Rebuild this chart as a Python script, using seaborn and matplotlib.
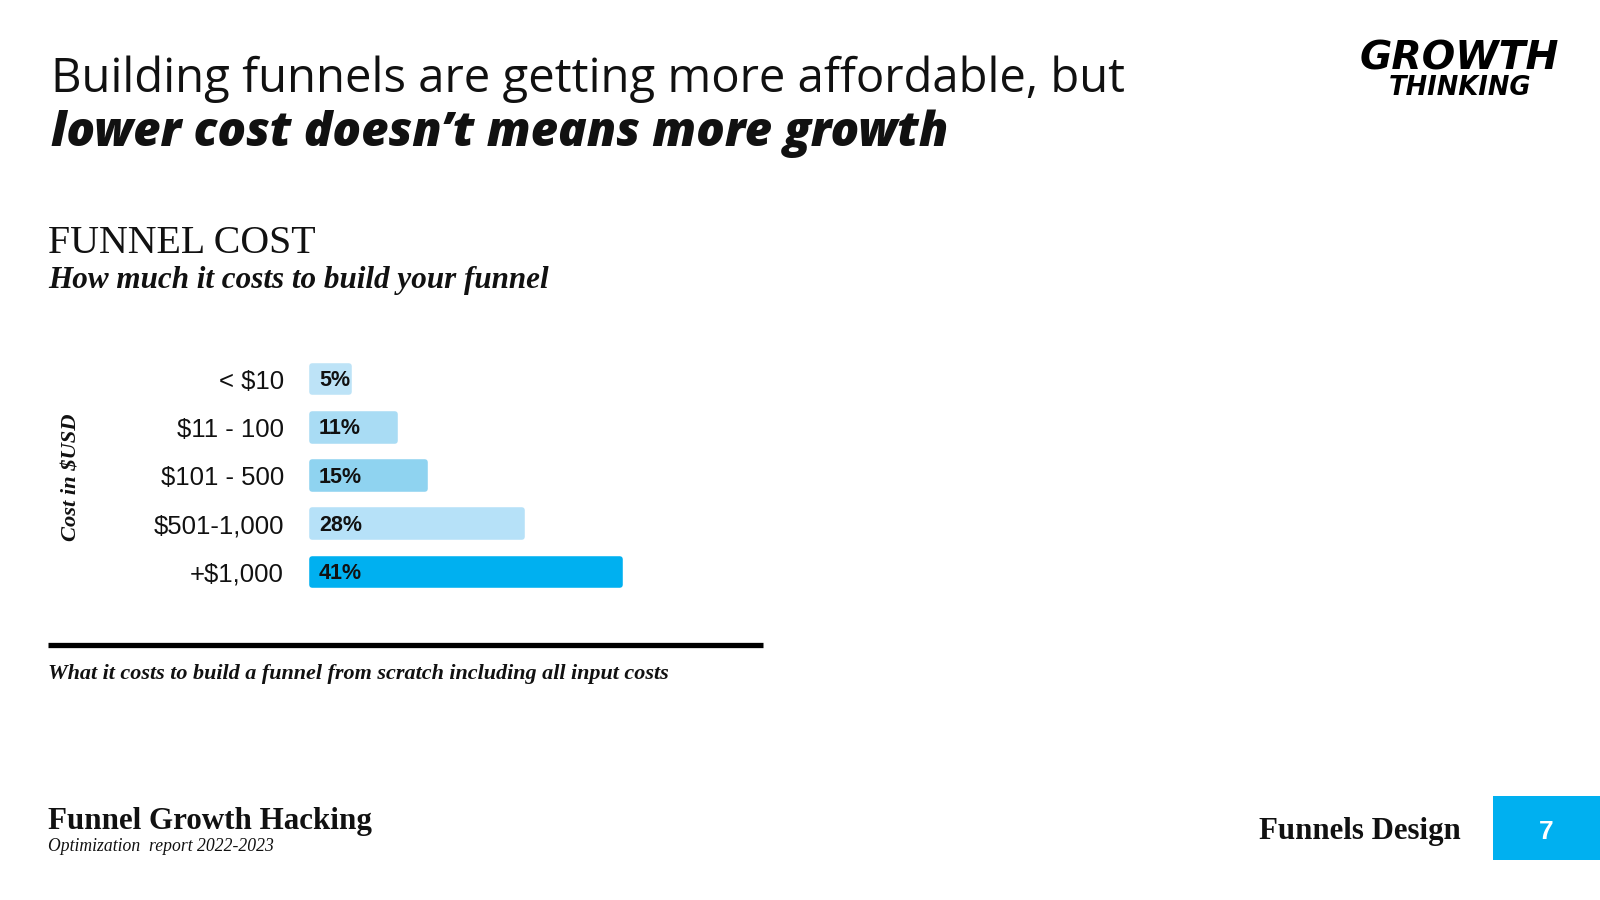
import matplotlib
matplotlib.use("Agg")
import matplotlib.pyplot as plt
import seaborn as sns
import pandas as pd

categories = ["< $10", "$11 - 100", "$101 - 500", "$501-1,000", "+$1,000"]
values = [5, 11, 15, 28, 41]
bar_colors = ["#BDE3F7", "#A9DCF4", "#8FD3F0", "#B6E1F8", "#00B0F0"]

title_line1 = "Building funnels are getting more affordable, but"
title_line2 = "lower cost doesn\u2019t means more growth"
chart_title = "FUNNEL COST"
chart_subtitle = "How much it costs to build your funnel"
y_label = "Cost in $USD"
footnote = "What it costs to build a funnel from scratch including all input costs"
footer_title = "Funnel Growth Hacking"
footer_sub = "Optimization  report 2022-2023"
section_name = "Funnels Design"
page_number = "7"

sns.set_theme(style="white")
plt.rcParams["font.family"] = ["Liberation Sans", "DejaVu Sans"]

W, H = 1600, 900
fig = plt.figure(figsize=(16, 9), dpi=100)
fig.patch.set_facecolor("white")
renderer = fig.canvas.get_renderer()


def fx(x):
    return x / W


def fy(y):
    return 1 - y / H


def put(x, y, s, width=None, **kw):
    kw.setdefault("va", "baseline")
    t = fig.text(fx(x), fy(y), s, **kw)
    if width is not None:
        bb = t.get_window_extent(renderer)
        t.set_fontsize(t.get_fontsize() * width / bb.width)
    return t


# Headline
put(51, 92, title_line1, width=1074, fontsize=30, family=["Open Sans", "DejaVu Sans"], color="#111111")
put(51, 146, title_line2, width=897, fontsize=30, family=["Open Sans", "DejaVu Sans"],
    fontweight="heavy", style="italic", color="#111111")

# Logo
put(1360, 70, "GROWTH", width=199, fontsize=30, family=["DejaVu Sans"],
    fontweight="bold", style="oblique", color="#000000")
put(1389, 95, "THINKING", width=142, fontsize=18, family=["DejaVu Sans"],
    fontweight="bold", style="oblique", color="#000000")

# Chart titles
put(48, 253, chart_title, width=268, fontsize=28, family=["Liberation Serif", "DejaVu Serif"], color="#111111")
put(48, 288, chart_subtitle, width=501, fontsize=19, family=["Liberation Serif", "DejaVu Serif"],
    fontweight="bold", style="italic", color="#111111")

# Y axis label
yl = fig.text(fx(71), fy(477), y_label, rotation=90, ha="center", va="center",
              family=["Liberation Serif", "DejaVu Serif"], fontweight="bold", style="italic",
              fontsize=14, color="#111111")
bb = yl.get_window_extent(renderer)
yl.set_fontsize(14 * 128 / bb.height)

# Bar chart (rounded corners via thick round-joined edges)
edge_lw = 4.0  # points -> ~5.6 px, adds ~2.8 px on each side
ext = edge_lw * 100 / 72 / 2
ax_left, ax_right = 309 + ext, 623 - ext
ax_top, ax_bottom = 355, 596
ax = fig.add_axes([fx(ax_left), fy(ax_bottom), (ax_right - ax_left) / W, (ax_bottom - ax_top) / H])
df = pd.DataFrame({"cost": categories, "share": values})
row_px = (ax_bottom - ax_top) / len(categories)
bar_w = (32 - 2 * ext) / row_px
sns.barplot(data=df, x="share", y="cost", hue="cost", palette=bar_colors, legend=False,
            orient="h", width=bar_w, saturation=1, ax=ax)
for p, c in zip(ax.patches, bar_colors):
    p.set_edgecolor(c)
    p.set_linewidth(edge_lw)
    p.set_joinstyle("round")
    p.set_clip_on(False)
ax.set_xlim(0, max(values))
ax.set_ylim(len(categories) - 0.5, -0.5)
for i, v in enumerate(values):
    ax.annotate(f"{v}%", xy=(0, i), xytext=(10 - ext, 1), textcoords="offset pixels",
                ha="left", va="center_baseline", fontsize=15.5, fontweight="bold", color="#111111",
                family=["Liberation Sans", "DejaVu Sans"])
ax.set_xlabel("")
ax.set_ylabel("")
ax.set_xticks([])
label_right = 284
ax.tick_params(axis="y", length=0, pad=(ax_left - label_right) * 0.72, labelsize=18.5,
               labelcolor="#111111")
for lab in ax.get_yticklabels():
    lab.set_family(["Liberation Sans", "DejaVu Sans"])
for s in ax.spines.values():
    s.set_visible(False)
ax.set_facecolor("none")

# Separator line and footnote
fig.add_artist(plt.Line2D([fx(48), fx(763)], [fy(645), fy(645)], color="black", linewidth=3.8,
                          solid_capstyle="butt"))
put(48, 679, footnote, width=622, fontsize=15, family=["Liberation Serif", "DejaVu Serif"],
    fontweight="bold", style="italic", color="#111111")

# Footer
put(48, 829, footer_title, width=323, fontsize=21, family=["Liberation Serif", "DejaVu Serif"],
    fontweight="bold", color="#111111")
put(48, 851, footer_sub, width=225, fontsize=12, family=["Liberation Serif", "DejaVu Serif"],
    style="italic", color="#111111")
put(1259, 839, section_name, width=201, fontsize=21, family=["Liberation Serif", "DejaVu Serif"],
    fontweight="bold", color="#111111")

fig.add_artist(plt.Rectangle((fx(1493), fy(860)), (W - 1493) / W, (860 - 796) / H,
                             facecolor="#00B0F0", edgecolor="none"))
fig.text(fx(1546), fy(832), page_number, ha="center", va="center", fontsize=19,
         fontweight="bold", color="white", family=["Liberation Sans", "DejaVu Sans"])

fig.savefig("out.png", dpi=100, facecolor="white")
